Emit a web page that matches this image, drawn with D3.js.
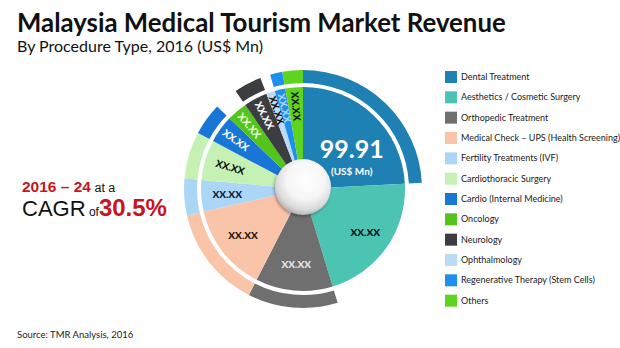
<!DOCTYPE html>
<html>
<head>
<meta charset="utf-8">
<script src="https://cdn.jsdelivr.net/npm/d3@7/dist/d3.min.js"></script>
<style>
  body { margin: 0; background: #ffffff; }
  svg { display: block; }
</style>
</head>
<body>
<svg id="chart" width="620" height="348"></svg>
<script>
// Procedure types, in drawing order (clockwise from 12 o'clock)
const categories = [
  "Dental Treatment",
  "Aesthetics / Cosmetic Surgery",
  "Orthopedic Treatment",
  "Medical Check – UPS (Health Screening)",
  "Fertility Treatments (IVF)",
  "Cardiothoracic Surgery",
  "Cardio (Internal Medicine)",
  "Oncology",
  "Neurology",
  "Ophthalmology",
  "Regenerative Therapy (Stem Cells)",
  "Others"
];

// Revenue 2016, US$ Mn
const revenue = [99.91, 87.3, 50.5, 57.4, 20.7, 26.4, 18.1, 13.4, 15.5, 5.7, 6.9, 11.5];

// Text printed on each slice (only the leading segment discloses its figure)
const sliceLabels = [null, "XX.XX", "XX.XX", "XX.XX", "XX.XX", "XX.XX",
                     "XX.XX", "XX.XX", "XX.XX", "XX.XX", "XX.XX", "XX.XX"];

// Segments that carry the outer accent band
const accentBand = [true, false, true, true, true, true, true, false, true, false, true, true];

const colors = ["#1f80b4", "#4cc4b3", "#6f6f6f", "#fac4a9", "#abd6f6", "#c6f1b5",
                "#1877d6", "#53c41c", "#3b3d40", "#b9dbf7", "#1e8fec", "#5dd41e"];
const labelColors = ["#ffffff", "#111111", "#e6e6e6", "#2a1408", "#0c2038", "#111111",
                     "#ffffff", "#e8ffd6", "#ffffff", "#111111", "#a9d6ff", "#111111"];

const svg = d3.select("#chart");
const defs = svg.append("defs");

// ---- Titles ----
svg.append("text")
  .attr("x", 17).attr("y", 32)
  .attr("font-family", "Lato, 'Open Sans', sans-serif")
  .attr("font-weight", 700).attr("font-size", 25.8)
  .attr("fill", "#111")
  .text("Malaysia Medical Tourism Market Revenue");

svg.append("text")
  .attr("x", 17).attr("y", 52)
  .attr("font-family", "Lato, 'Open Sans', sans-serif")
  .attr("font-size", 16)
  .attr("fill", "#111")
  .text("By Procedure Type, 2016 (US$ Mn)");

// ---- Growth callout ----
const cagr = svg.append("g").attr("font-family", "'Liberation Sans', Arial, sans-serif");
const l1 = cagr.append("text").attr("x", 22).attr("y", 192);
l1.append("tspan").attr("font-weight", 700).attr("font-size", 15.5).attr("fill", "#c8141e").text("2016 – 24");
l1.append("tspan").attr("font-size", 12.5).attr("fill", "#111").text(" at a");
const l2 = cagr.append("text").attr("x", 22).attr("y", 216);
l2.append("tspan").attr("font-size", 22).attr("fill", "#111").text("CAGR");
l2.append("tspan").attr("font-size", 12).attr("fill", "#111").text(" of");
l2.append("tspan").attr("font-weight", 700).attr("font-size", 24).attr("fill", "#c8141e").text("30.5%");

// ---- Donut ----
const cx = 303, cy = 189;
const R = 102, bandInner = 106, bandOuter = 119, holeR = 28;

const pie = d3.pie().sort(null).value(d => d)
  .startAngle(0).endAngle(2 * Math.PI);
const arcs = pie(revenue);

const g = svg.append("g").attr("transform", `translate(${cx},${cy})`);

const wedge = d3.arc().innerRadius(0).outerRadius(R);
const band = d3.arc().innerRadius(bandInner).outerRadius(bandOuter);

g.selectAll("path.wedge")
  .data(arcs)
  .join("path")
  .attr("class", "wedge")
  .attr("d", wedge)
  .attr("fill", (d, i) => colors[i]);

g.selectAll("path.band")
  .data(arcs.filter((d, i) => accentBand[i]))
  .join("path")
  .attr("class", "band")
  .attr("d", band)
  .attr("fill", d => colors[d.index]);

// Slice labels
const deg = a => a * 180 / Math.PI;
arcs.forEach((d, i) => {
  if (i === 0) return;
  const mid = (d.startAngle + d.endAngle) / 2;
  const span = deg(d.endAngle - d.startAngle);
  const r = span < 16 ? 83 : 76;
  const x = Math.sin(mid) * r, y = -Math.cos(mid) * r;
  const md = deg(mid);
  const rot = md > 275 ? md - 270 : 0;
  g.append("text")
    .attr("transform", `translate(${x},${y}) rotate(${rot})`)
    .attr("text-anchor", "middle")
    .attr("dy", "0.35em")
    .attr("font-family", "Lato, 'Open Sans', sans-serif")
    .attr("font-weight", 900)
    .attr("font-size", 10)
    .attr("fill", labelColors[i])
    .text(sliceLabels[i]);
});

// Leading value on the dental segment
{
  const d = arcs[0];
  const mid = (d.startAngle + d.endAngle) / 2;
  const x = Math.sin(mid) * 62 + 6, y = -Math.cos(mid) * 62;
  g.append("text")
    .attr("x", x).attr("y", y + 14)
    .attr("text-anchor", "middle")
    .attr("font-family", "Lato, 'Open Sans', sans-serif")
    .attr("font-weight", 700).attr("font-size", 25)
    .attr("fill", labelColors[0])
    .text(d3.format(".2f")(d.data));
  g.append("text")
    .attr("x", x).attr("y", y + 31)
    .attr("text-anchor", "middle")
    .attr("font-family", "Lato, 'Open Sans', sans-serif")
    .attr("font-weight", 700).attr("font-size", 10)
    .attr("fill", labelColors[0])
    .text("(US$ Mn)");
}

// Centre sphere
const grad = defs.append("radialGradient").attr("id", "sphere")
  .attr("cx", "55%").attr("cy", "38%").attr("r", "62%");
grad.append("stop").attr("offset", "0%").attr("stop-color", "#ffffff");
grad.append("stop").attr("offset", "55%").attr("stop-color", "#f6f6f6");
grad.append("stop").attr("offset", "85%").attr("stop-color", "#dadada");
grad.append("stop").attr("offset", "100%").attr("stop-color", "#b8b8b8");
const shadow = defs.append("filter").attr("id", "soft")
  .attr("x", "-30%").attr("y", "-30%").attr("width", "160%").attr("height", "160%");
shadow.append("feDropShadow").attr("dx", -1).attr("dy", 1.5)
  .attr("stdDeviation", 1.8).attr("flood-color", "#000").attr("flood-opacity", 0.35);
g.append("circle")
  .attr("cx", 0).attr("cy", -2).attr("r", holeR)
  .attr("fill", "url(#sphere)")
  .attr("filter", "url(#soft)");

// ---- Legend ----
const legend = svg.append("g").attr("transform", "translate(445,71)");
const rowY = d3.scaleBand().domain(categories).range([0, 244]).paddingInner(0);
const row = legend.selectAll("g.row")
  .data(categories)
  .join("g")
  .attr("class", "row")
  .attr("transform", d => `translate(0,${rowY(d)})`);
row.append("rect")
  .attr("width", 12).attr("height", 12)
  .attr("fill", (d, i) => colors[i]);
row.append("text")
  .attr("x", 16).attr("y", 6).attr("dy", "0.35em")
  .attr("font-family", "Lato, 'Open Sans', sans-serif")
  .attr("font-size", 9)
  .attr("fill", "#1a1a1a")
  .text(d => d);

// ---- Source ----
svg.append("text")
  .attr("x", 17).attr("y", 338)
  .attr("font-family", "Lato, 'Open Sans', sans-serif")
  .attr("font-size", 9.5)
  .attr("fill", "#222")
  .text("Source: TMR Analysis, 2016");
</script>
</body>
</html>
